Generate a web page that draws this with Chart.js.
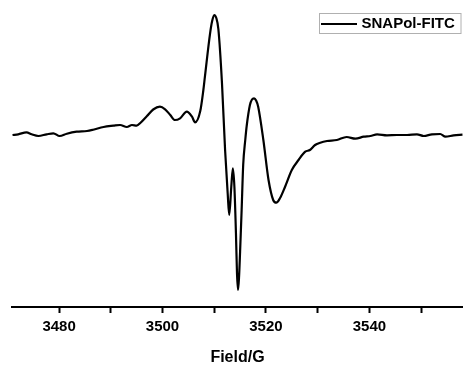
<!DOCTYPE html>
<html>
<head>
<meta charset="utf-8">
<script src="https://cdn.jsdelivr.net/npm/chart.js@4/dist/chart.umd.min.js"></script>
<style>
  html, body { margin: 0; padding: 0; background: #fff; }
  #wrap { width: 463px; height: 367px; position: relative; }
</style>
</head>
<body>
<div id="wrap"><canvas id="eprChart"></canvas></div>
<script>
// ===== DATA =====
const seriesLabel = "SNAPol-FITC";
const axisTitle = "Field/G";

const fieldG = [
  3471.0, 3472.1, 3473.7, 3474.7, 3476.0, 3477.6, 3478.9, 3480.1, 3481.5, 3483.4,
  3485.4, 3486.6, 3488.6, 3490.5, 3491.8, 3493.1, 3494.1, 3495.0, 3495.8, 3497.0,
  3498.2, 3499.5, 3500.5, 3501.5, 3502.4, 3503.4, 3504.7, 3505.7, 3506.3, 3507.3,
  3507.9, 3508.2, 3509.2, 3509.6, 3510.0, 3510.4, 3510.8, 3511.5, 3512.1, 3512.6,
  3512.9, 3513.3, 3513.6, 3513.9, 3514.2, 3514.4, 3514.6, 3514.8, 3515.0, 3515.3,
  3515.6, 3516.0, 3516.3, 3516.9, 3517.3, 3517.7, 3518.1, 3518.5, 3519.5, 3520.5,
  3521.4, 3522.0, 3522.7, 3523.7, 3525.0, 3526.3, 3527.6, 3528.5, 3529.5, 3530.5,
  3531.8, 3533.7, 3535.6, 3537.3, 3538.9, 3540.2, 3541.5, 3543.4, 3545.3, 3547.3,
  3549.2, 3550.5, 3552.1, 3553.7, 3554.7, 3556.3, 3558.0
];

const intensity = [
  0, 0.7, 2.7, 0.7, -1, 0.7, 1.7, -1, 1.3, 3.3,
  4, 5.3, 8, 9.3, 10, 8, 10, 9.3, 12.5, 19,
  25.5, 28.3, 25.7, 20, 15, 16.7, 23.3, 18.3, 12.7, 24,
  45, 58.3, 101.7, 114, 120, 117, 106, 51.7, -15, -58.3,
  -80, -51.7, -33.3, -51.7, -98.3, -138, -155, -142, -117, -75,
  -30, -5, 10, 30, 35.5, 36.7, 34.5, 28.3, -5, -45,
  -65, -67.7, -63.3, -51.7, -35, -25, -16.7, -15, -10, -7.7,
  -6, -5, -2, -3.7, -1.7, -1, 0.7, -0.3, 0, 0,
  0.7, -1, 0.7, 1, -1.7, -0.3, 0.3
];

const xMin = 3470.9;
const xMax = 3558.1;
const yMin = -172;
const yMax = 135;

const FONT = "'Liberation Sans', Arial, sans-serif";

// ===== LEGEND DRAWN INSIDE THE PLOT (top right, boxed) =====
const boxedLegend = {
  id: "boxedLegend",
  afterDraw(chart) {
    const ctx = chart.ctx;
    ctx.save();
    ctx.strokeStyle = "#b0b0b0";
    ctx.lineWidth = 1;
    ctx.strokeRect(319.5, 13.5, 141.5, 20);
    ctx.strokeStyle = "#000";
    ctx.lineWidth = 2;
    ctx.beginPath();
    ctx.moveTo(321, 24);
    ctx.lineTo(357, 24);
    ctx.stroke();
    ctx.fillStyle = "#000";
    ctx.font = "bold 15px " + FONT;
    ctx.textBaseline = "middle";
    ctx.textAlign = "left";
    ctx.fillText(chart.data.datasets[0].label, 361.5, 24);
    ctx.restore();
  }
};

// ===== CHART =====
const ctx = document.getElementById("eprChart").getContext("2d");
const eprChart = new Chart(ctx, {
  type: "line",
  data: {
    datasets: [{
      label: seriesLabel,
      data: fieldG.map((x, i) => ({ x: x, y: intensity[i] })),
      borderColor: "#000",
      borderWidth: 2.2,
      pointRadius: 0,
      cubicInterpolationMode: "monotone",
      fill: false,
    }],
  },
  options: {
    responsive: true,
    maintainAspectRatio: false,
    animation: false,
    layout: { padding: { top: 0, left: 12, right: 0, bottom: 0 } },
    scales: {
      x: {
        type: "linear",
        min: xMin,
        max: xMax,
        afterFit(scale) { scale.height = 60; },
        ticks: {
          stepSize: 10,
          includeBounds: false,
          autoSkip: false,
          maxRotation: 0,
          padding: 5,
          color: "#000",
          font: { family: FONT, size: 15, weight: "bold" },
          callback: (v) => (v % 20 === 0 ? String(v) : ""),
        },
        grid: {
          drawOnChartArea: false,
          drawTicks: true,
          tickLength: 6,
          tickColor: "#000",
          tickWidth: 2,
        },
        border: { color: "#000", width: 2 },
        title: {
          display: true,
          text: axisTitle,
          color: "#000",
          font: { family: FONT, size: 16, weight: "bold" },
          padding: { top: 0, bottom: 0 },
        },
      },
      y: {
        display: false,
        min: yMin,
        max: yMax,
      },
    },
    plugins: {
      legend: { display: false },
      tooltip: { enabled: false },
    },
  },
  plugins: [boxedLegend],
});
</script>
</body>
</html>
